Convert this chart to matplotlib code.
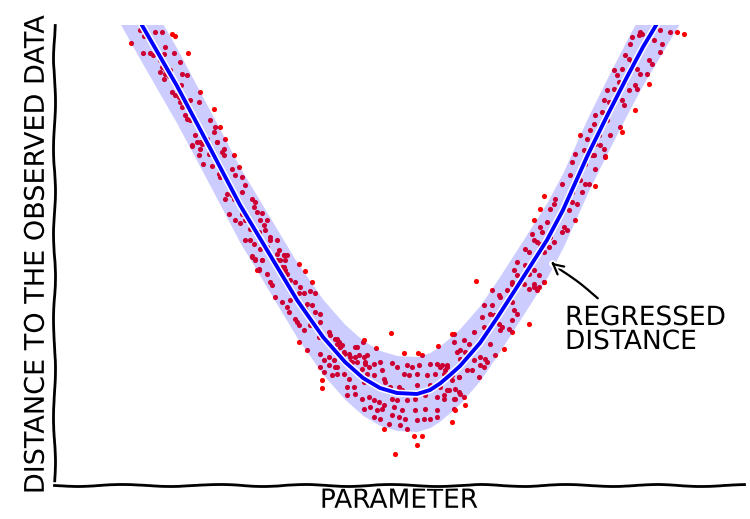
import matplotlib
matplotlib.use("Agg")
import matplotlib.pyplot as plt
import matplotlib.patheffects as pe
import numpy as np

# ---- regressed curve (parameter -> distance) ----
curve_x = [13.2, 17.8, 24.6, 31.2, 37.2, 42.6, 48.6, 53.8, 58.2, 61.8, 65.2, 68.6, 72.6, 75.2,
           77.2, 79.2, 81.2, 85.2, 88.6, 92.6, 98.6, 101.8, 106.8, 110.6, 114.6, 117.8, 120.2, 125.2]
curve_y = [99.8, 91.6, 79.8, 67.4, 56.0, 47.0, 37.0, 29.6, 24.6, 21.4, 19.4, 18.4, 18.2, 19.0,
           20.3, 22.0, 23.8, 28.4, 33.4, 39.6, 49.0, 55.0, 66.1, 73.8, 81.6, 87.6, 91.6, 100.0]
band_halfwidth = 7.5

# ---- observed samples, by region of the curve ----
upper_left_x = [17.1, 17.9, 15.3, 20.2, 21.5, 23.5, 24.1, 19.9, 17.7, 19.2, 19.7, 22.2, 21.9, 23.9, 26.7,
                21.1, 25.2, 21.5, 22.2, 23.2, 21.2, 22.2, 22.9, 25.5, 21.9, 26.5, 23.9, 25.4, 23.5, 24.2,
                24.9, 29.2, 25.2, 27.2, 28.9, 25.5, 27.2, 32.0, 26.2, 26.5, 27.1, 31.2, 28.5, 32.2, 33.2,
                29.2, 31.9, 28.2, 34.2, 29.2, 30.5, 32.5, 27.5, 29.2, 33.9]
upper_left_y = [91.0, 89.8, 88.5, 90.7, 90.7, 90.2, 89.8, 87.8, 86.5, 86.5, 86.0, 87.7, 86.3, 86.5, 86.5,
                85.1, 84.7, 83.7, 83.3, 83.0, 82.7, 82.3, 81.8, 82.3, 81.3, 82.0, 80.7, 80.0, 78.7, 78.0,
                77.7, 78.7, 76.7, 77.0, 76.7, 75.7, 75.0, 75.3, 74.0, 73.3, 73.0, 73.0, 72.0, 71.7, 71.7,
                71.0, 70.7, 70.0, 69.3, 68.7, 69.3, 68.7, 68.0, 67.3, 67.3]

mid_left_x = [27.5, 28.5, 29.5, 28.9, 29.7, 30.9, 31.2, 32.5, 33.5, 33.9, 35.9, 31.5, 32.9, 33.2, 35.5,
              36.9, 36.2, 37.5, 38.2, 35.2, 34.5, 35.5, 35.9, 34.2, 37.5, 39.5, 40.2, 39.9, 34.9, 37.5,
              40.5, 41.5, 36.2, 37.2, 38.2, 41.2, 42.5, 41.9, 39.2, 42.2, 40.9, 43.2, 38.2, 39.2, 39.9,
              43.2, 44.5, 41.2, 42.5, 44.9, 39.5, 40.2, 41.5, 44.5, 45.9, 46.5, 45.2, 40.9, 45.9]
mid_left_y = [67.8, 68.7, 68.3, 66.0, 64.3, 66.3, 67.0, 68.7, 66.7, 66.0, 66.0, 63.8, 62.3, 61.7, 63.3,
              63.7, 62.0, 61.7, 60.0, 60.0, 58.3, 58.0, 57.3, 57.3, 58.7, 57.3, 56.7, 55.7, 54.3, 54.3,
              54.7, 54.5, 53.0, 52.5, 53.0, 53.0, 53.0, 52.0, 51.3, 51.0, 50.7, 49.7, 49.1, 49.0, 48.3,
              49.0, 49.0, 47.3, 47.7, 47.0, 45.7, 45.3, 45.0, 45.1, 46.0, 46.0, 45.0, 43.3, 43.7]

low_left_x = [39.5, 40.2, 41.5, 40.5, 40.9, 44.5, 45.9, 46.2, 48.9, 45.5, 46.2, 46.5, 50.2, 42.5, 43.2,
              43.5, 47.2, 48.2, 49.2, 51.5, 48.9, 49.9, 51.2, 52.2, 44.2, 45.5, 47.2, 46.5, 46.9, 50.5,
              51.5, 50.2, 52.2, 53.2, 48.2, 48.5, 48.9, 49.9, 53.2, 51.2, 52.5, 54.9, 55.2, 52.9, 56.5,
              56.9, 61.9, 48.9, 57.2, 60.2, 50.5, 53.2, 54.9, 57.9, 59.2, 60.9, 62.5, 53.9, 55.9, 53.2,
              54.9, 56.5, 59.2, 62.2, 62.9, 53.9, 55.5, 61.2, 53.6, 53.6]
low_left_y = [45.8, 45.1, 45.1, 43.0, 43.0, 46.3, 46.0, 45.0, 44.3, 43.7, 43.0, 42.3, 42.9, 42.3, 40.7,
              40.0, 41.0, 40.7, 39.7, 40.7, 38.5, 38.5, 38.9, 38.5, 37.7, 36.7, 37.0, 35.7, 34.7, 36.3,
              36.0, 35.3, 34.7, 34.3, 33.3, 32.7, 32.0, 31.0, 32.7, 32.0, 31.7, 30.7, 30.0, 29.7, 29.3,
              28.7, 29.0, 28.7, 27.7, 27.7, 27.0, 26.3, 25.7, 26.3, 25.7, 26.0, 26.0, 25.0, 25.0, 23.7,
              24.0, 23.7, 24.7, 24.3, 23.7, 22.7, 22.0, 22.3, 21.0, 19.4]

bottom_x = [67.3, 61.7, 64.3, 70.0, 72.7, 73.5, 76.7, 79.5, 56.2, 56.5, 57.5, 56.5, 57.9, 57.2, 58.9,
            60.5, 60.2, 61.9, 59.5, 60.5, 62.2, 63.9, 65.2, 67.5, 68.5, 70.5, 71.5, 72.9, 75.2, 76.5,
            77.2, 78.5, 56.2, 56.5, 57.9, 58.9, 61.5, 62.5, 63.9, 65.5, 65.9, 66.2, 69.9, 70.9, 72.5,
            74.5, 76.2, 77.9, 79.5, 80.9, 58.5, 59.9, 61.9, 63.9, 67.2, 68.9, 69.5, 72.5, 75.2, 77.2,
            78.5, 80.2, 80.9, 58.5, 60.2, 61.5, 62.9, 63.9, 64.9, 65.9, 67.5, 68.5, 70.5, 72.2, 74.2,
            76.5, 77.9, 79.9, 61.9, 63.2, 64.5, 65.5, 67.9, 69.5, 72.2, 74.2, 76.5, 80.2, 63.9, 65.2,
            67.5, 68.9, 70.2, 72.5, 73.9, 75.2, 76.5, 66.9, 69.2, 70.5, 65.9, 71.9, 73.5, 72.5, 68.2]
bottom_y = [30.5, 28.7, 27.5, 26.5, 26.5, 26.0, 27.8, 30.2, 29.3, 28.3, 28.0, 27.0, 26.7, 26.0, 26.3,
            27.7, 25.7, 25.7, 24.7, 24.7, 24.7, 24.3, 24.7, 24.5, 23.7, 24.0, 23.7, 24.0, 24.3, 24.3,
            23.7, 24.0, 23.7, 22.3, 22.3, 21.3, 23.3, 22.3, 22.0, 23.0, 21.3, 20.7, 22.3, 22.0, 22.3,
            22.0, 22.3, 22.3, 22.0, 21.7, 19.7, 19.7, 20.7, 20.0, 19.7, 19.7, 19.0, 20.0, 20.0, 19.7,
            19.0, 19.3, 18.7, 18.0, 18.3, 17.3, 17.7, 17.0, 16.7, 16.0, 17.3, 17.0, 17.0, 17.3, 18.0,
            17.7, 17.3, 17.3, 15.3, 15.7, 15.0, 15.3, 15.7, 15.0, 15.0, 15.3, 15.0, 15.0, 13.7, 13.3,
            14.0, 13.7, 13.3, 13.0, 13.3, 13.3, 13.7, 12.3, 12.0, 11.3, 11.3, 9.8, 9.8, 8.0, 6.3]

low_right_x = [84.4, 87.5, 88.9, 89.2, 90.5, 91.5, 93.9, 94.9, 95.9, 96.5, 97.9, 85.9, 87.5, 85.5, 87.2,
               87.9, 91.9, 91.5, 92.5, 88.9, 89.5, 85.9, 91.5, 94.9, 83.9, 89.2, 90.9, 91.5, 79.9, 81.9,
               82.9, 79.9, 87.2, 89.9, 80.5, 81.2, 82.2, 83.5, 81.2, 83.9, 85.2, 86.2, 86.5, 88.2, 77.5,
               78.5, 78.2, 82.5, 83.5, 85.2, 85.9, 84.9, 79.5, 80.9, 78.9, 80.2, 81.2, 81.9, 79.9, 77.9,
               82.2, 79.5]
low_right_y = [40.8, 39.0, 38.0, 37.7, 39.0, 40.3, 40.3, 39.3, 39.7, 39.0, 40.7, 36.0, 36.0, 33.7, 34.3,
               34.0, 35.0, 36.7, 34.3, 32.3, 31.7, 31.7, 33.0, 32.3, 30.7, 31.0, 31.3, 30.7, 30.3, 29.0,
               28.3, 28.7, 28.3, 27.3, 26.7, 27.0, 26.7, 27.0, 25.3, 25.0, 25.7, 25.3, 24.7, 26.0, 24.0,
               23.7, 23.0, 23.0, 23.0, 24.0, 23.7, 21.7, 21.0, 21.7, 19.0, 17.3, 18.3, 17.7, 15.3, 18.0,
               16.0, 12.7]

mid_right_x = [107.9, 110.2, 106.2, 103.5, 108.2, 103.2, 105.2, 106.2, 106.9, 101.5, 108.2, 97.9, 100.2, 103.5,
               105.5, 99.9, 103.5, 104.5, 97.2, 99.2, 101.5, 102.9, 104.2, 95.9, 98.5, 100.5, 97.2, 97.5,
               99.9, 101.9, 102.5, 101.5, 95.5, 95.9, 96.5, 99.2, 99.9, 97.2, 94.2, 94.9, 97.9, 98.9,
               92.5, 94.2, 95.9, 91.9, 92.5, 94.9, 95.9, 96.9, 91.5, 93.2, 95.9, 97.9, 92.2, 96.9]
mid_right_y = [66.0, 65.8, 64.3, 64.7, 63.3, 62.0, 61.0, 60.3, 60.3, 60.3, 59.8, 57.8, 57.3, 58.7,
               58.7, 56.3, 56.7, 56.3, 55.3, 55.3, 55.0, 55.0, 53.0, 53.0, 52.7, 53.3, 51.7, 50.7,
               51.7, 51.7, 51.0, 50.7, 50.3, 49.0, 48.7, 49.7, 48.7, 48.3, 47.3, 46.7, 46.7, 47.7,
               44.7, 44.0, 45.3, 43.0, 42.0, 42.3, 43.0, 42.0, 40.7, 40.7, 40.3, 40.7, 39.7, 39.7]

upper_right_x = [115.5, 116.9, 117.5, 117.2, 121.2, 123.2, 124.5, 125.9, 119.9, 121.5, 115.2, 121.2, 114.2, 114.9,
                 115.5, 118.9, 119.5, 116.5, 111.9, 112.5, 113.5, 117.2, 118.5, 114.2, 116.2, 116.5, 118.9,
                 112.9, 110.5, 111.9, 114.9, 109.9, 110.9, 113.5, 113.9, 116.2, 109.5, 108.2, 110.5, 113.2,
                 107.9, 107.2, 105.2, 106.5, 108.9, 111.2, 113.5, 105.9, 108.2, 109.2, 109.9, 104.2, 107.5, 110.2]
upper_right_y = [89.7, 90.0, 90.3, 90.7, 91.0, 90.7, 90.7, 90.3, 89.0, 88.3, 88.3, 86.7, 86.0, 85.3,
                 84.7, 85.0, 84.3, 83.3, 83.0, 82.0, 83.3, 82.3, 82.3, 80.7, 80.0, 79.3, 80.3,
                 80.7, 79.0, 79.3, 79.0, 77.0, 76.7, 77.0, 76.0, 75.0, 74.7, 74.0, 73.0, 71.7,
                 72.3, 71.0, 70.0, 69.3, 70.0, 70.0, 70.7, 67.0, 68.3, 68.0, 67.3, 66.3, 66.0, 65.7]

obs_x = (upper_left_x + mid_left_x + low_left_x + bottom_x + low_right_x + mid_right_x + upper_right_x)
obs_y = (upper_left_y + mid_left_y + low_left_y + bottom_y + low_right_y + mid_right_y + upper_right_y)

label_text = "REGRESSED\nDISTANCE"
label_xy = (102.2, 36.0)
arrow_tip = (98.8, 45.0)
arrow_tail = (109.2, 37.0)

plt.xkcd()
plt.rcParams['font.family'] = ['DejaVu Sans']

fig = plt.figure(figsize=(7.5, 5.19), dpi=100)
ax = fig.add_axes([54 / 750, 34 / 519, 690 / 750, 460 / 519])

pts, = ax.plot(obs_x, obs_y, 'o', color='red', markersize=3.7, markeredgewidth=0, zorder=1)
pts.set_path_effects([])
pts.set_sketch_params(None)

cx = np.array(curve_x)
cy = np.array(curve_y)
band = ax.fill_between(cx, cy - band_halfwidth, cy + band_halfwidth, color='blue', alpha=0.2,
                       linewidth=0, zorder=2)
band.set_path_effects([])
band.set_sketch_params(None)

line, = ax.plot(cx, cy, color='blue', lw=2.8, zorder=3, solid_joinstyle='round')
line.set_sketch_params(None)
line.set_path_effects([pe.withStroke(linewidth=5.0, foreground='w')])

ax.annotate('', xy=arrow_tip, xytext=arrow_tail,
            arrowprops=dict(arrowstyle='->', color='k', lw=1.6, mutation_scale=20))
ax.text(label_xy[0], label_xy[1], label_text, fontsize=19, ha='left', va='top', linespacing=0.9)

ax.set_xlim(0, 138)
ax.set_ylim(0, 92)
ax.spines['top'].set_visible(False)
ax.spines['right'].set_visible(False)
ax.spines['left'].set_linewidth(2)
ax.spines['bottom'].set_linewidth(2)
ax.set_xticks([])
ax.set_yticks([])
ax.set_xlabel('PARAMETER', fontsize=19, labelpad=2)
ax.set_ylabel('DISTANCE TO THE OBSERVED DATA', fontsize=19.5, labelpad=3)

fig.savefig('out.png', dpi=100)
